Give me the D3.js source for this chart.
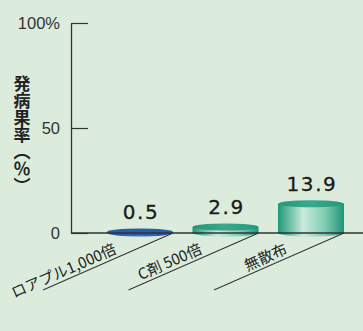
<!DOCTYPE html>
<html>
<head>
<meta charset="utf-8">
<script src="https://cdn.jsdelivr.net/npm/d3@7"></script>
<style>
  body { margin: 0; background: #dcecdc; }
  svg { display: block; }
</style>
</head>
<body>
<script>
var w = 363;
var h = 331;

// data
var categories = ["ロアプル1,000倍", "C剤 500倍", "無散布"];
var values = [0.5, 2.9, 13.9];
var valueLabels = ["0.5", "2.9", "13.9"];
var tickValues = [0, 50, 100];
var tickLabels = ["0", "50", "100%"];
var barStyles = ["blue", "teal", "teal"];

var svg = d3.select("body").append("svg").attr("width", w).attr("height", h);

var defs = svg.append("defs");
function addGrad(id, stops) {
  var g = defs.append("linearGradient").attr("id", id)
    .attr("x1", "0%").attr("x2", "100%").attr("y1", "0%").attr("y2", "0%");
  stops.forEach(function (s) {
    g.append("stop").attr("offset", s[0]).attr("stop-color", s[1]);
  });
}
addGrad("blue", [["0%", "#1b4a9a"], ["45%", "#4f80c9"], ["100%", "#1b4a9a"]]);
addGrad("teal", [["0%", "#1f9779"], ["38%", "#c9ebdc"], ["72%", "#7ccbb0"], ["100%", "#1f9477"]]);
addGrad("blueTop", [["0%", "#2a5aa8"], ["100%", "#2a5aa8"]]);
addGrad("tealTop", [["0%", "#23977b"], ["50%", "#3aa88c"], ["100%", "#23977b"]]);

var y = d3.scaleLinear().domain([0, 100]).range([233, 23]);
var x = d3.scaleBand().domain(categories).range([107, 344]).paddingInner(0.228).paddingOuter(0);

// y axis
var yAxis = d3.axisLeft(y)
  .tickValues(tickValues)
  .tickSizeInner(-17)
  .tickSizeOuter(0)
  .tickPadding(11)
  .tickFormat(function (d, i) { return tickLabels[i]; });

var gy = svg.append("g").attr("transform", "translate(71,0)").call(yAxis)
  .attr("font-size", 16.5)
  .attr("font-family", "'Liberation Sans', Arial, sans-serif");
gy.select(".domain").attr("stroke", "#333").attr("stroke-width", 1.3);
gy.selectAll(".tick line").attr("stroke", "#333").attr("stroke-width", 1.2);
gy.selectAll(".tick text").attr("fill", "#333");

// axis title (vertical)
svg.append("text")
  .attr("x", 22)
  .attr("y", 75)
  .style("writing-mode", "vertical-rl")
  .style("font-family", "'Noto Sans CJK JP', sans-serif")
  .style("font-size", "17px")
  .style("font-weight", "bold")
  .attr("fill", "#222")
  .text("発病果率（％）");

// bars (cylinders)
var ry = 3.5;
var bars = svg.selectAll(".bar").data(values).enter().append("g").attr("class", "bar");

bars.append("path")
  .attr("d", function (d, i) {
    var x0 = x(categories[i]), x1 = x0 + x.bandwidth();
    var rx = x.bandwidth() / 2;
    var top = y(d), bot = y(0);
    return "M" + x0 + "," + top + "L" + x0 + "," + bot +
      "A" + rx + "," + ry + " 0 0 0 " + x1 + "," + bot +
      "L" + x1 + "," + top + "Z";
  })
  .attr("fill", function (d, i) { return "url(#" + barStyles[i] + ")"; });

bars.append("ellipse")
  .attr("cx", function (d, i) { return x(categories[i]) + x.bandwidth() / 2; })
  .attr("cy", function (d) { return y(d); })
  .attr("rx", x.bandwidth() / 2)
  .attr("ry", ry)
  .attr("fill", function (d, i) { return "url(#" + barStyles[i] + "Top)"; });

// value labels
svg.selectAll(".val").data(values).enter().append("text")
  .attr("class", "val")
  .attr("x", function (d, i) { return x(categories[i]) + x.bandwidth() / 2 + 1; })
  .attr("y", function (d) { return y(d) - 13; })
  .attr("text-anchor", "middle")
  .style("font-family", "'DejaVu Sans', sans-serif")
  .style("font-size", "20px")
  .style("letter-spacing", "1.6px")
  .attr("fill", "#1a1a1a")
  .attr("stroke", "#1a1a1a")
  .attr("stroke-width", 0.3)
  .text(function (d, i) { return valueLabels[i]; });

// baseline
svg.append("line")
  .attr("x1", 71).attr("x2", w)
  .attr("y1", y(0)).attr("y2", y(0))
  .attr("stroke", "#333").attr("stroke-width", 1.5);

// slanted category labels
var angle = -23.7;
var cats = svg.selectAll(".cat").data(categories).enter().append("g")
  .attr("class", "cat")
  .attr("transform", function (d) {
    return "translate(" + (x(d) + x.bandwidth()) + "," + y(0) + ") rotate(" + angle + ")";
  });

cats.append("line")
  .attr("x1", 0).attr("x2", -142)
  .attr("y1", 0).attr("y2", 0)
  .attr("stroke", "#333").attr("stroke-width", 1);

cats.append("text")
  .attr("x", -59)
  .attr("y", -4)
  .attr("text-anchor", "end")
  .style("font-family", "'Noto Sans CJK JP', sans-serif")
  .style("font-size", "15px")
  .attr("fill", "#222")
  .text(function (d) { return d; });
</script>
</body>
</html>
